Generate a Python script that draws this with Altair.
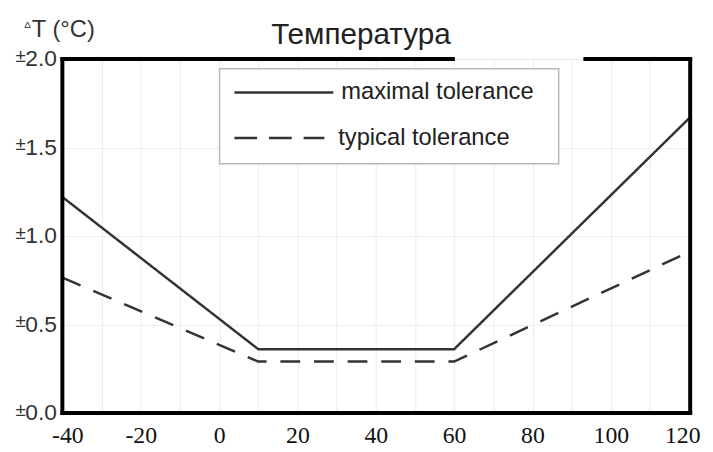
import altair as alt
import pandas as pd

# ---- data ----
series_names = ["maximal tolerance", "typical tolerance"]
temp_points = [-40, 10, 60, 120]
max_tolerance = [1.22, 0.36, 0.36, 1.665]
typ_tolerance = [0.765, 0.29, 0.29, 0.91]
x_grid_values = [-40, -30, -20, -10, 0, 10, 20, 30, 40, 50, 60, 70, 80, 90, 100, 110, 120]
y_tick_values = [0.0, 0.5, 1.0, 1.5, 2.0]
title_text = "Температура"
y_title_delta = "Δ"
y_title_rest = "T (°C)"
pm_sign = "±"

df = pd.DataFrame({
    "T": temp_points + temp_points,
    "dT": max_tolerance + typ_tolerance,
    "series": [series_names[0]] * len(temp_points) + [series_names[1]] * len(temp_points),
})

W, H = 634, 358
FONT = "Liberation Sans"
NARROW = "Liberation Sans Narrow"
INK = "#333333"
dashes = [[1, 0], [20, 14]]
legend_dashes = [[1, 0], [23, 12]]

x_scale = alt.Scale(domain=[-40, 120], nice=False, zero=False)
y_scale = alt.Scale(domain=[0, 2], nice=False, zero=True)

lines = alt.Chart(df).mark_line(strokeWidth=2.5, color=INK, clip=True).encode(
    x=alt.X("T:Q", scale=x_scale,
            axis=alt.Axis(values=x_grid_values, title=None, ticks=False, domain=False,
                          grid=True, gridColor="#ededed", gridWidth=1,
                          labelExpr="datum.value % 20 == 0 ? '' + datum.value : ''",
                          labelFont=NARROW, labelFontSize=24, labelColor="#111111",
                          labelPadding=11, labelFlush=True, labelFlushOffset=11)),
    y=alt.Y("dT:Q", scale=y_scale,
            axis=alt.Axis(values=y_tick_values, title=None, ticks=False, domain=False,
                          grid=True, gridColor="#ededed", gridWidth=1,
                          format=".1f",
                          labelFont=FONT, labelFontSize=23, labelColor=INK,
                          labelPadding=6, labelFlush=False)),
    strokeDash=alt.StrokeDash("series:N",
                              scale=alt.Scale(domain=series_names, range=dashes),
                              legend=None),
)

# small ± signs in front of the y labels
pm = alt.Chart(pd.DataFrame({"v": y_tick_values})).mark_text(
    text=pm_sign, font=FONT, fontSize=19, align="right", baseline="middle", dy=-3, color=INK
).encode(y=alt.Y("v:Q", scale=y_scale), x=alt.value(-37))

one = pd.DataFrame({"k": [0]})

# y axis title (small Δ + text)
yt1 = alt.Chart(one).mark_text(text=y_title_delta, font=FONT, fontSize=10, align="right",
                               baseline="alphabetic", color=INK).encode(x=alt.value(-32), y=alt.value(-31))
yt2 = alt.Chart(one).mark_text(text=y_title_rest, font=FONT, fontSize=24, align="left",
                               baseline="alphabetic", color=INK).encode(x=alt.value(-31), y=alt.value(-22))

# chart title
title = alt.Chart(one).mark_text(text=title_text, font=FONT, fontSize=30, align="center",
                                 baseline="alphabetic", color="#222222").encode(
    x=alt.value(302), y=alt.value(-15))

# frame
frame_style = dict(color="black", strokeWidth=4)
left = alt.Chart(one).mark_rule(**frame_style).encode(x=alt.value(0), y=alt.value(-2), y2=alt.value(H + 2))
right = alt.Chart(one).mark_rule(**frame_style).encode(x=alt.value(W + 1), y=alt.value(-2), y2=alt.value(H + 2))
bottom = alt.Chart(one).mark_rule(**frame_style).encode(y=alt.value(H), x=alt.value(-2), x2=alt.value(W + 3))
top1 = alt.Chart(one).mark_rule(**frame_style).encode(y=alt.value(0), x=alt.value(-2), x2=alt.value(397))
top2 = alt.Chart(one).mark_rule(**frame_style).encode(y=alt.value(0), x=alt.value(527), x2=alt.value(W + 3))

# legend (drawn by hand to match the reference box)
legend_box = alt.Chart(one).mark_rect(fill="white", stroke="#b8b8b8", strokeWidth=1.5).encode(
    x=alt.value(159), x2=alt.value(502), y=alt.value(10), y2=alt.value(106))
legend_layers = [legend_box]
legend_rows = [(34, 174, 274, 282), (80, 174, 265, 279)]
for i, name in enumerate(series_names):
    ly, lx1, lx2, tx = legend_rows[i]
    legend_layers.append(
        alt.Chart(one).mark_rule(color=INK, strokeWidth=2.5, strokeDash=legend_dashes[i]).encode(
            x=alt.value(lx1), x2=alt.value(lx2), y=alt.value(ly)))
    legend_layers.append(
        alt.Chart(pd.DataFrame({"label": [name]})).mark_text(
            font=FONT, fontSize=24, align="left", baseline="middle", color="#222222").encode(
            text="label:N", x=alt.value(tx), y=alt.value(ly)))

chart = alt.layer(lines, pm, yt1, yt2, title, left, right, bottom, top1, top2, *legend_layers).properties(
    width=W, height=H,
    autosize=alt.AutoSizeParams(type="none"),
    padding={"left": 55, "top": 49, "right": 16, "bottom": 37},
).configure_view(stroke=None).configure(background="white")

chart.save("out.html", embed_options={"renderer": "svg", "actions": False})
